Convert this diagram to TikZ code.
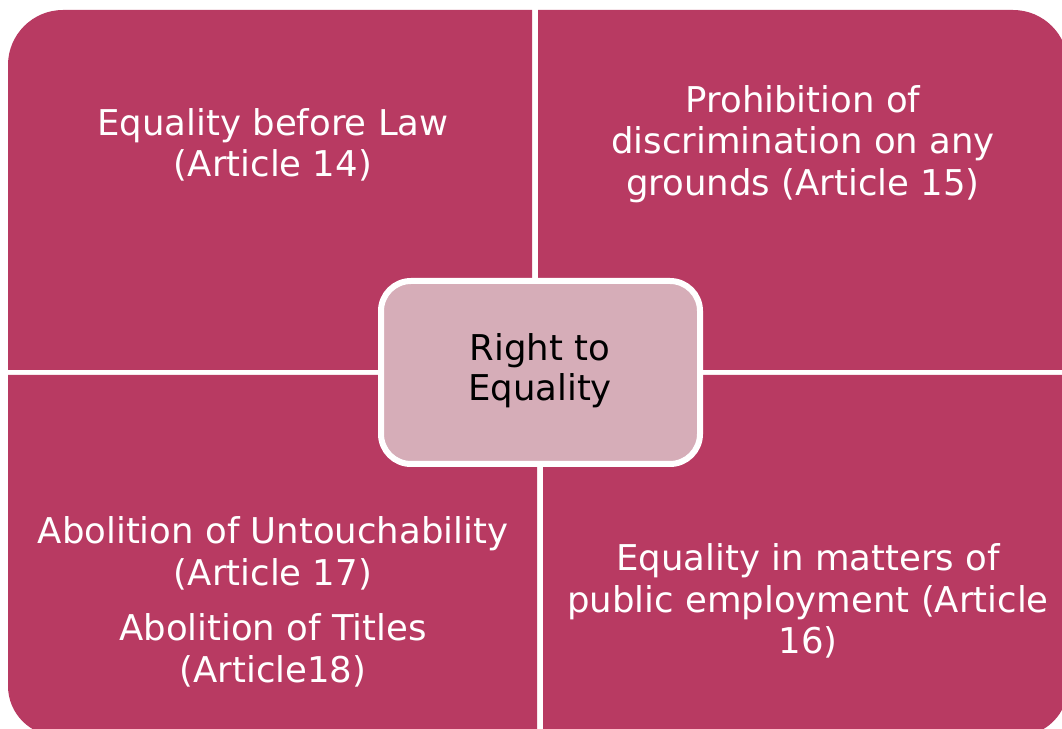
\documentclass[tikz,border=0pt]{standalone}
\usepackage{fontspec}
\setmainfont{DejaVu Sans}
\definecolor{quadfill}{HTML}{B83A62}
\definecolor{hubfill}{HTML}{D6ADB8}
\begin{document}
\begin{tikzpicture}[x=1pt,y=1pt,
  quad/.style={fill=quadfill},
  quadtext/.style={text=white,align=center,font=\fontsize{35.5}{41.5}\selectfont},
  hub/.style={draw=white,line width=6pt,fill=hubfill,rounded corners=30pt,
    minimum width=319pt,minimum height=183pt},
  hubtext/.style={text=black,align=center,font=\fontsize{35.5}{40}\selectfont}]
\useasboundingbox (0,0) rectangle (1062,728);
\clip (0,0) rectangle (1062,728);
\fill[white] (0,0) rectangle (1062,728);
% four quadrants, each rounded only at its outer corner
\fill[quad] (532,358) -- (8,358) -- (8,663) arc[start angle=180,end angle=90,radius=55] -- (532,718) -- cycle;
\fill[quad] (538,358) -- (538,718) -- (1013,718) arc[start angle=90,end angle=0,radius=55] -- (1068,358) -- cycle;
\fill[quad] (537,353) -- (8,353) -- (8,42) arc[start angle=180,end angle=270,radius=50] -- (537,-8) -- cycle;
\fill[quad] (543,353) -- (1068,353) -- (1068,42) arc[start angle=0,end angle=-90,radius=50] -- (543,-8) -- cycle;
% quadrant labels
\node[quadtext] (q14) at (273,583) {Equality before Law\\(Article 14)};
\node[quadtext] (q15) at (803,584) {Prohibition of\\discrimination on any\\grounds (Article 15)};
\node[quadtext] (q17) at (273,126) {Abolition of Untouchability\\(Article 17)\\[14pt]Abolition of Titles\\(Article18)};
\node[quadtext] (q16) at (808,127) {Equality in matters of\\public employment (Article\\16)};
% central hub
\node[hub] (hub) at (540.5,355.5) {};
\node[hubtext] (hubtext) at (540,357) {Right to\\Equality};
\end{tikzpicture}
\end{document}
